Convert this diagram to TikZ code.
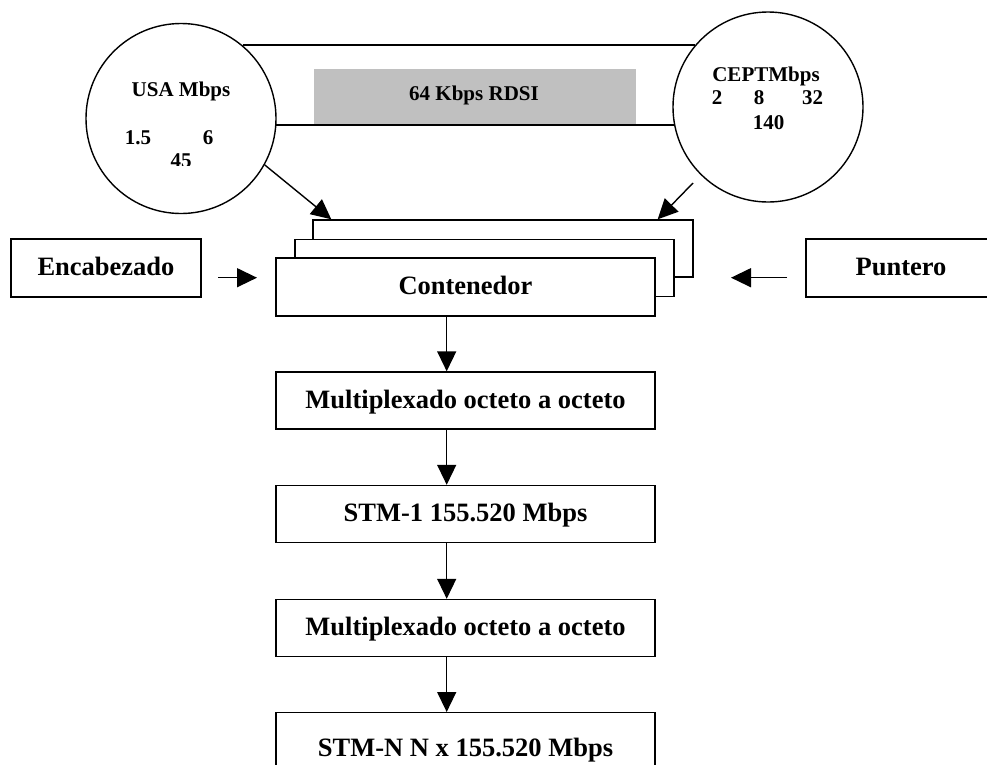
\documentclass[tikz,border=0pt]{standalone}
\usepackage{fontspec}
\setmainfont{Liberation Serif}
\usetikzlibrary{arrows.meta,calc}
\definecolor{isdngray}{RGB}{192,192,192}
\begin{document}
\begin{tikzpicture}[x=1pt,y=-1pt,
  line width=1.4pt,
  big/.style={font=\fontsize{26.5}{30}\selectfont\bfseries},
  small/.style={font=\fontsize{21}{24}\selectfont\bfseries, inner sep=0pt, anchor=base},
  rate/.style={circle, draw, minimum size=190pt, inner sep=0pt},
  blk/.style={draw, fill=white, big, inner sep=0pt, minimum width=379pt,
              minimum height=57pt, text height=19pt, text depth=4pt},
  tip/.style={-{Triangle[width=19pt,length=20pt]}},
]
\useasboundingbox (0,0) rectangle (987,764);

% rate groups and the 64 kbps band between them
\node[fill=isdngray, minimum width=322pt, minimum height=56pt, inner sep=0pt] (isdn) at (475,97) {};
\node[rate] (usa) at (181,118.5) {};
\node[rate] (cept) at (768,107) {};
\draw (usa.50) -- (cept.140 |- usa.50);
\draw (usa.-4.5) -- (cept.191.5 |- usa.-4.5);
\node[small] (isdnlbl) at (474,100) {64 Kbps RDSI};

% USA hierarchy
\node[small] (usat) at (181,96.5) {USA Mbps};
\node[small] (u15) at (138,144) {1.5};
\node[small] (u6) at (208,144) {6};
\begin{scope}
  \clip (150,140) rectangle (215,165.7);
  \node[small] (u45) at (181,167) {45};
\end{scope}

% CEPT hierarchy
\node[small] (ceptt) at (766,81) {CEPTMbps};
\node[small] (c2) at (717,104) {2};
\node[small] (c8) at (759,104) {8};
\node[small] (c32) at (812.5,104) {32};
\node[small] (c140) at (768.5,129) {140};

% stacked containers
\node[blk, minimum width=380pt] (contc) at (503,248.5) {};
\node[blk] (contb) at (484.5,268) {};
\node[blk, minimum height=58pt] (cont) at (465.5,287) {Contenedor};

% header and pointer
\node[blk, minimum width=190pt, minimum height=58pt] (enc) at (106,268) {Encabezado};
\node[blk, minimum width=190pt, minimum height=58pt] (punt) at (901,268) {Puntero};

\coordinate (ceptout) at (693,183);
\coordinate (encout) at (218,277.7);
\coordinate (encin) at (257,277.7);
\coordinate (puntout) at (787,277.7);
\coordinate (puntin) at (731,277.7);

\draw[tip] (usa.-29) -- ([xshift=19pt]contc.north west);
\draw[tip] (ceptout) -- ([xshift=-36pt]contc.north east);
\draw[tip] (encout) -- (encin);
\draw[tip] (puntout) -- (puntin);

% multiplexing chain
\coordinate (col) at (446.7,0);
\node[blk] (m1) at (465.5,400.5) {Multiplexado octeto a octeto};
\node[blk] (s1) at (465.5,514) {STM-1 155.520 Mbps};
\node[blk] (m2) at (465.5,628) {Multiplexado octeto a octeto};
\node[blk, minimum height=73pt] (sn) at (465.5,749.2) {STM-N N x 155.520 Mbps};

\draw[tip] (cont.south -| col) -- (m1.north -| col);
\draw[tip] (m1.south -| col) -- (s1.north -| col);
\draw[tip] (s1.south -| col) -- (m2.north -| col);
\draw[tip] (m2.south -| col) -- (sn.north -| col);
\end{tikzpicture}
\end{document}
